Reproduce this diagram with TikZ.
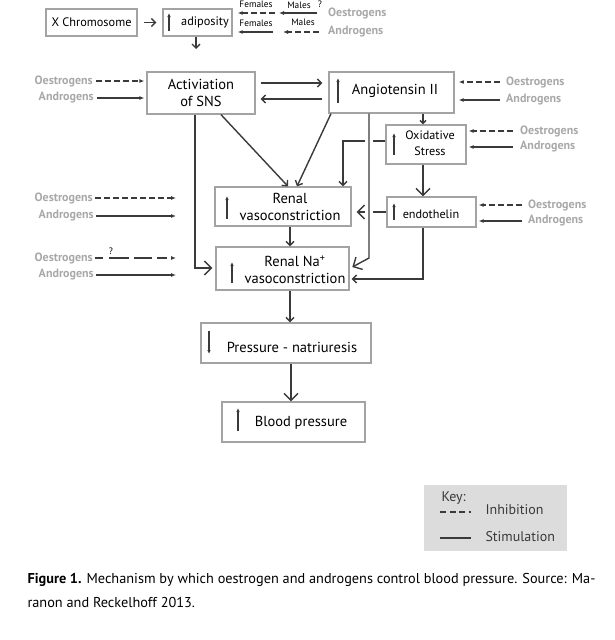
\documentclass[tikz,border=0pt]{standalone}
\usepackage{fontspec}
\setmainfont{PT Sans}
\usetikzlibrary{arrows.meta,calc}
\definecolor{linegray}{HTML}{3A3A3A}
\definecolor{boxgray}{HTML}{A3A3A3}
\definecolor{labgray}{HTML}{A8A8A8}
\definecolor{keygray}{HTML}{DCDCDC}

\tikzset{
  box/.style={draw=boxgray, line width=1.3pt, inner sep=0pt},
  boxtxt/.style={font=\fontsize{14.5}{17}\selectfont, align=center, inner sep=0pt},
  toptxt/.style={font=\fontsize{12.3}{14}\selectfont, align=center, inner sep=0pt},
  smalltxt/.style={font=\fontsize{12.2}{16}\selectfont, align=center, inner sep=0pt},
  hormone/.style={text=labgray, font=\fontsize{12}{14}\selectfont\bfseries, inner sep=0pt},
  sexlbl/.style={font=\fontsize{9.3}{11}\selectfont, inner sep=0pt},
  keytxt/.style={anchor=west, font=\fontsize{14}{16}\selectfont, text=linegray},
  stim/.style={linegray, line width=1.2pt, -{Latex[length=5pt,width=4pt]}},
  inhib/.style={stim, dash pattern=on 6pt off 3pt},
  link/.style={linegray, line width=1.4pt, -{Straight Barb[length=4pt,width=8pt]}},
  biglink/.style={linegray, line width=1.4pt, -{Straight Barb[length=7pt,width=14pt]}},
  updown/.style={linegray, line width=1.2pt, -{Latex[length=4pt,width=3.5pt]}},
}

\begin{document}
\begin{tikzpicture}[x=1pt, y=-1pt]
\useasboundingbox (0,0) rectangle (614,640);

% Top row: X chromosome and adiposity
\node[box, toptxt, minimum width=91, minimum height=27] (xchr) at (91.5,22.5) {X Chromosome};
\node[box, minimum width=69, minimum height=27] (adip) at (197.5,22.5) {};
\node[toptxt] (adiptxt) at (205,22) {adiposity};
\draw[updown] (169,31) -- (169,13);
\draw[link, shorten <=6pt, shorten >=6pt] (xchr.east) -- (adip.west);
\coordinate (adipend) at (196,49);
\draw[link] (adip.south -| adipend) -- (adipend);

\node[hormone, anchor=west] (oes0) at (328,13) {Oestrogens};
\node[hormone, anchor=west] (and0) at (328,32) {Androgens};
\coordinate (m1) at (317,13);
\coordinate (f1) at (277,13);
\coordinate (m2) at (319,32);
\coordinate (f2) at (278,32);
\draw[stim, shorten >=2pt] (m1) -- (f1);
\draw[inhib, shorten >=5pt] ([xshift=-2pt]f1) -- (adip.east |- f1);
\draw[inhib, shorten >=5pt] (m2) -- (f2);
\draw[stim, shorten >=5pt] ([xshift=-5pt]f2) -- (adip.east |- f2);
\node[sexlbl] (fem1) at (256,4) {Females};
\node[sexlbl] (mal1) at (299,5) {Males};
\node[sexlbl] (q1) at (320,4) {?};
\node[sexlbl] (fem2) at (256,23) {Females};
\node[sexlbl] (mal2) at (303,22) {Males};

% SNS and angiotensin
\node[box, boxtxt, minimum width=108, minimum height=42] (act) at (201,93) {Activiation\\of SNS};
\node[box, minimum width=125, minimum height=41] (ang) at (391.5,92.5) {};
\node[boxtxt] (angtxt) at (395,91) {Angiotensin II};
\draw[updown] (338,103) -- (338,78);
\draw[link, shorten <=5pt, shorten >=6pt] (act.east |- 0,83) -- (ang.west |- 0,83);
\draw[link, shorten <=6pt, shorten >=5pt] (ang.west |- 0,99) -- (act.east |- 0,99);

\node[hormone, anchor=east] (oes1) at (93,81) {Oestrogens};
\node[hormone, anchor=east] (and1) at (94,98) {Androgens};
\draw[inhib, shorten <=3pt, shorten >=2pt] (oes1.east) -- (act.west |- oes1.east);
\draw[stim, shorten <=3pt, shorten >=2pt] (and1.east) -- (act.west |- and1.east);

\node[hormone, anchor=west] (oes2) at (506,82) {Oestrogens};
\node[hormone, anchor=west] (and2) at (506,100) {Androgens};
\draw[inhib, shorten <=6pt, shorten >=4pt] (oes2.west) -- (ang.east |- oes2.west);
\draw[stim, shorten <=6pt, shorten >=4pt] (and2.west) -- (ang.east |- and2.west);

% Oxidative stress and endothelin
\node[box, minimum width=80, minimum height=39] (oxs) at (426,144.5) {};
\node[smalltxt] (oxstxt) at (430,143) {Oxidative\\Stress};
\draw[updown] (394,155) -- (394,133);
\node[hormone, anchor=west] (oes5) at (520,131) {Oestrogens};
\node[hormone, anchor=west] (and5) at (520,147) {Androgens};
\draw[inhib, shorten <=7pt, shorten >=2pt] (oes5.west) -- (oxs.east |- oes5.west);
\draw[stim, shorten <=7pt, shorten >=2pt] (and5.west) -- (oxs.east |- and5.west);

\node[box, minimum width=89, minimum height=30] (endo) at (431.5,212) {};
\node[smalltxt] (endotxt) at (431,214) {endothelin};
\draw[updown] (394,220) -- (394,203);
\node[hormone, anchor=west] (oes6) at (528,205) {Oestrogens};
\node[hormone, anchor=west] (and6) at (528,221) {Androgens};
\draw[inhib, shorten <=6pt, shorten >=2pt] (oes6.west) -- (endo.east |- oes6.west);
\draw[stim, shorten <=6pt, shorten >=2pt] (and6.west) -- (endo.east |- and6.west);

% Renal boxes
\node[box, minimum width=136, minimum height=39] (rvc) at (283,206.5) {};
\node[boxtxt] (rvctxt) at (290,207) {Renal\\vasoconstriction};
\draw[updown] (227,219) -- (227,196);

\node[box, minimum width=133, minimum height=43] (rna) at (282.5,268.5) {};
\node[boxtxt] (rnatxt) at (295,270) {Renal Na\textsuperscript{+}\\vasoconstriction};
\draw[updown] (232,283) -- (232,262);

\node[box, minimum width=170, minimum height=40] (pn) at (286,343) {};
\node[boxtxt] (pntxt) at (292,347) {Pressure - natriuresis};
\draw[updown] (209,331) -- (209,354);

\node[box, minimum width=143, minimum height=40] (bp) at (293.5,422) {};
\node[boxtxt] (bptxt) at (301,423) {Blood pressure};
\draw[updown] (238,431) -- (238,408);

% Connectors
\draw[link, -{Straight Barb[length=3pt,width=6pt]}] (ang.south -| 423,0) -- (oxs.north -| 423,0);
\draw[biglink] (oxs.south -| 423,0) -- (endo.north -| 423,0);
\draw[link] (oxs.west |- 0,141) -- (343,141) -- (rvc.north -| 343,0);
\draw[biglink, shorten >=5pt] (endo.west) -- (rvc.east |- endo.west);
\draw[link, shorten >=2pt] (endo.south -| 423,0) -- (423,279) -- (rna.east |- 0,279);
\draw[white, line width=8pt] (369,130) -- (369,230);
\draw[biglink, shorten >=3pt] (ang.south -| 369,0) -- (369,258) -- (rna.east);
\draw[biglink, shorten >=3pt] (act.south -| 195,0) -- (195,268) -- (rna.west |- 0,268);
\draw[link] (act.south -| 221,0) -- (rvc.north -| 288,0);
\draw[link] (ang.south -| 331,0) -- (rvc.north -| 297,0);
\draw[link] (rvc.south -| 290,0) -- (rna.north -| 290,0);
\draw[link] (rna.south -| 290,0) -- (pn.north -| 290,0);
\draw[biglink] (pn.south -| 291,0) -- (bp.north -| 291,0);

% Hormone inputs on the left
\node[hormone, anchor=east] (oes3) at (93,198) {Oestrogens};
\node[hormone, anchor=east] (and3) at (94,216) {Androgens};
\node[hormone, anchor=east] (oes4) at (93,258) {Oestrogens};
\node[hormone, anchor=east] (and4) at (94,275) {Androgens};
\coordinate (in3) at (176,198);
\coordinate (in4) at (176,216);
\coordinate (in5) at (176,258);
\coordinate (in6) at (176,275);
\draw[inhib, shorten <=2pt] (oes3.east) -- (in3);
\draw[stim, shorten <=2pt] (and3.east) -- (in4);
\draw[stim, dash pattern=on 8pt off 6pt on 20pt off 5pt on 18pt off 5pt on 10pt, shorten <=2pt] (oes4.east) -- (in5);
\draw[stim, shorten <=2pt] (and4.east) -- (in6);
\node[sexlbl] (q2) at (111,251) {?};

% Key
\fill[keygray] (424,485) rectangle (567,551);
\node[keytxt] (keyttl) at (438,498) {Key:};
\draw[linegray, line width=1.2pt, dash pattern=on 6pt off 3.5pt] (440,512) -- (471,512);
\node[keytxt] (inhtxt) at (482,510) {Inhibition};
\draw[linegray, line width=1.2pt] (440,538) -- (471,538);
\node[keytxt] (stimtxt) at (482,537) {Stimulation};

% Caption
\node[anchor=base west, font=\fontsize{14.3}{16}\selectfont] (cap1) at (24,583) {\textbf{Figure 1.} Mechanism by which oestrogen and androgens control blood pressure. Source: Ma-};
\node[anchor=base west, font=\fontsize{14.3}{16}\selectfont] (cap2) at (24,607) {ranon and Reckelhoff 2013.};

\end{tikzpicture}
\end{document}
